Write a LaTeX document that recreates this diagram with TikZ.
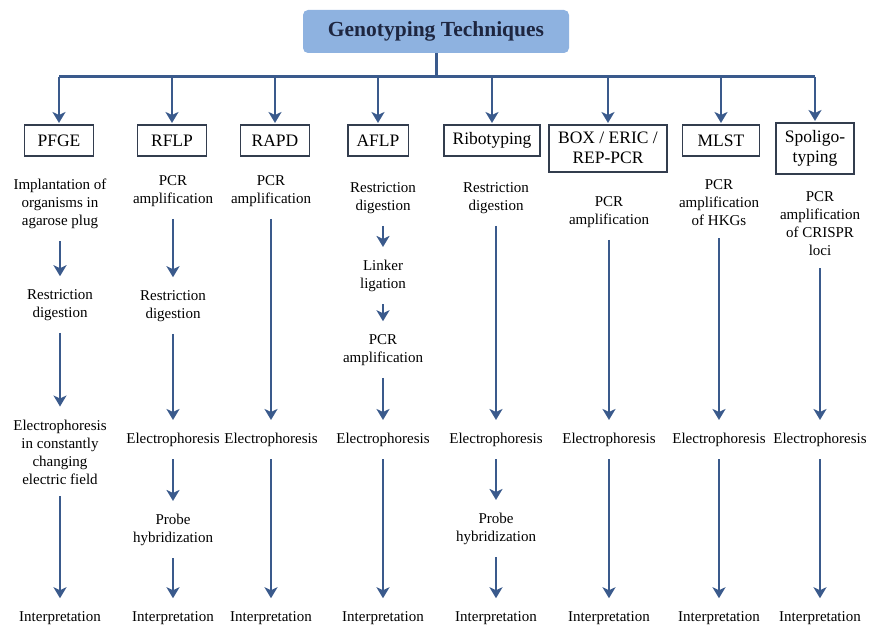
\documentclass[tikz,border=0pt]{standalone}
\usepackage{fontspec}
\setmainfont{Liberation Serif}
\usetikzlibrary{arrows.meta}
\definecolor{flowblue}{HTML}{3A5A8C}
\definecolor{titleblue}{HTML}{8EB2E0}
\definecolor{boxline}{HTML}{333D4E}
\definecolor{titletext}{HTML}{1E2640}

\begin{document}
\begin{tikzpicture}[x=1pt,y=-1pt,
  title/.style={rounded corners=5pt,fill=titleblue,minimum width=266pt,minimum height=43pt,font=\fontsize{21.5}{24}\selectfont\bfseries,text=titletext},
  method/.style={draw=boxline,line width=1.8pt,anchor=north,minimum width=69pt,minimum height=31pt,inner xsep=9pt,inner ysep=7.5pt,align=center,font=\fontsize{17.5}{20}\selectfont},
  stage/.style={align=center,inner sep=0pt,font=\fontsize{15}{18}\selectfont},
  link/.style={flowblue,line width=3pt},
  flow/.style={flowblue,line width=2.8pt,-{Stealth[length=11pt,width=13pt,inset=3pt]},shorten <=12pt,shorten >=13pt}]
\useasboundingbox (0,0) rectangle (873,628);

\node[title] (gt) at (436,31.5) {Genotyping Techniques};
\coordinate (hub) at (436,77);

\node[method] (m1) at (59,124) {PFGE};
\node[method] (m2) at (172,124) {RFLP};
\node[method] (m3) at (275,124) {RAPD};
\node[method,minimum width=58pt] (m4) at (378,124) {AFLP};
\node[method] (m5) at (492,124) {Ribotyping};
\node[method] (m6) at (608,124) {BOX / ERIC /\\REP-PCR};
\node[method,minimum width=77pt] (m7) at (721,124) {MLST};
\node[method] (m8) at (815,122) {Spoligo-\\typing};

% PFGE
\node[stage] (pf1) at (60,204) {Implantation of\\organisms in\\agarose plug};
\node[stage] (pf2) at (60,305) {Restriction\\digestion};
\node[stage] (pf3) at (60,452) {Electrophoresis\\in constantly\\changing\\electric field};
\node[stage] (pf4) at (60,618) {Interpretation};
% RFLP
\node[stage] (rf1) at (173,191) {PCR\\amplification};
\node[stage] (rf2) at (173,306) {Restriction\\digestion};
\node[stage] (rf3) at (173,440) {Electrophoresis};
\node[stage] (rf4) at (173,530) {Probe\\hybridization};
\node[stage] (rf5) at (173,618) {Interpretation};
% RAPD
\node[stage] (ra1) at (271,191) {PCR\\amplification};
\node[stage] (ra2) at (271,440) {Electrophoresis};
\node[stage] (ra3) at (271,618) {Interpretation};
% AFLP
\node[stage] (af1) at (383,198) {Restriction\\digestion};
\node[stage] (af2) at (383,276) {Linker\\ligation};
\node[stage] (af3) at (383,350) {PCR\\amplification};
\node[stage] (af4) at (383,440) {Electrophoresis};
\node[stage] (af5) at (383,618) {Interpretation};
% Ribotyping
\node[stage] (ri1) at (496,198) {Restriction\\digestion};
\node[stage] (ri2) at (496,440) {Electrophoresis};
\node[stage] (ri3) at (496,529) {Probe\\hybridization};
\node[stage] (ri4) at (496,618) {Interpretation};
% BOX / ERIC / REP-PCR
\node[stage] (bx1) at (609,212) {PCR\\amplification};
\node[stage] (bx2) at (609,440) {Electrophoresis};
\node[stage] (bx3) at (609,618) {Interpretation};
% MLST
\node[stage] (ml1) at (719,203) {PCR\\amplification\\of HKGs};
\node[stage] (ml2) at (719,440) {Electrophoresis};
\node[stage] (ml3) at (719,618) {Interpretation};
% Spoligotyping
\node[stage] (sp1) at (820,224) {PCR\\amplification\\of CRISPR\\loci};
\node[stage] (sp2) at (820,440) {Electrophoresis};
\node[stage] (sp3) at (820,618) {Interpretation};

\draw[link] (gt) -- (hub);
\draw[link] (m1.north |- hub) -- (m8.north |- hub);
\draw[flow,shorten <=0pt,shorten >=1pt] (m1.north |- hub) -- (m1.north);
\draw[flow,shorten <=0pt,shorten >=1pt] (m2.north |- hub) -- (m2.north);
\draw[flow,shorten <=0pt,shorten >=1pt] (m3.north |- hub) -- (m3.north);
\draw[flow,shorten <=0pt,shorten >=1pt] (m4.north |- hub) -- (m4.north);
\draw[flow,shorten <=0pt,shorten >=1pt] (m5.north |- hub) -- (m5.north);
\draw[flow,shorten <=0pt,shorten >=1pt] (m6.north |- hub) -- (m6.north);
\draw[flow,shorten <=0pt,shorten >=1pt] (m7.north |- hub) -- (m7.north);
\draw[flow,shorten <=0pt,shorten >=1pt] (m8.north |- hub) -- (m8.north);

\draw[flow] (pf1) -- (pf2);
\draw[flow] (pf2) -- (pf3);
\draw[flow] (pf3) -- (pf4);
\draw[flow] (rf1) -- (rf2);
\draw[flow] (rf2) -- (rf3);
\draw[flow] (rf3) -- (rf4);
\draw[flow] (rf4) -- (rf5);
\draw[flow] (ra1) -- (ra2);
\draw[flow] (ra2) -- (ra3);
\draw[flow] (af1) -- (af2);
\draw[flow] (af2) -- (af3);
\draw[flow] (af3) -- (af4);
\draw[flow] (af4) -- (af5);
\draw[flow] (ri1) -- (ri2);
\draw[flow] (ri2) -- (ri3);
\draw[flow] (ri3) -- (ri4);
\draw[flow] (bx1) -- (bx2);
\draw[flow] (bx2) -- (bx3);
\draw[flow] (ml1) -- (ml2);
\draw[flow] (ml2) -- (ml3);
\draw[flow] (sp1) -- (sp2);
\draw[flow] (sp2) -- (sp3);
\end{tikzpicture}
\end{document}
